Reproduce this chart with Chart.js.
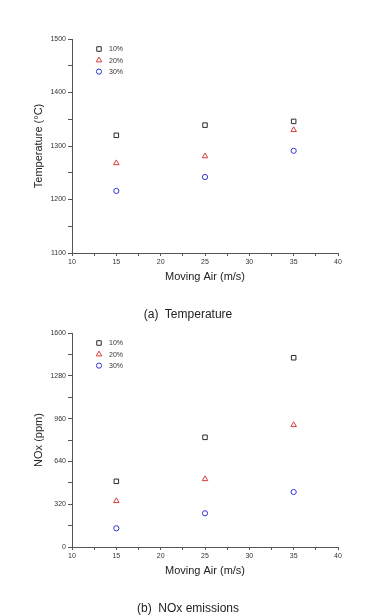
<!DOCTYPE html>
<html>
<head>
<meta charset="utf-8">
<script src="https://cdn.jsdelivr.net/npm/chart.js@4/dist/chart.umd.min.js"></script>
<style>
  body { margin: 0; background: #fff; width: 382px; height: 616px; position: relative; overflow: hidden; font-family: "Liberation Sans", Arial, sans-serif; }
  .box { position: absolute; left: 0; width: 382px; height: 300px; }
  .cap { position: absolute; left: 0; width: 376px; text-align: center; font-size: 12px; color: #222; }
</style>
</head>
<body>
<div class="box" style="top:0"><canvas id="tempChart" width="382" height="300"></canvas></div>
<div class="box" style="top:294px"><canvas id="noxChart" width="382" height="300"></canvas></div>
<div class="cap" style="top:307px">(a)&nbsp; Temperature</div>
<div class="cap" style="top:601px">(b)&nbsp; NOx&nbsp;emissions</div>
<script>
// data
const airSpeed = [15, 25, 35];
const seriesLabels = ['10%', '20%', '30%'];
const temp10 = [1320, 1339, 1346];
const temp20 = [1268, 1281, 1330];
const temp30 = [1216, 1242, 1291];
const nox10 = [491, 820, 1415];
const nox20 = [344, 508, 912];
const nox30 = [140, 252, 411];
const xTicks = [10, 15, 20, 25, 30, 35, 40];
const tempTicks = [1100, 1200, 1300, 1400, 1500];
const noxTicks = [0, 320, 640, 960, 1280, 1600];

const FONT = '"Liberation Sans", Arial, sans-serif';
const styles = [
    { pointStyle: 'rect', color: '#2a2a2a', radius: 3.2 },
    { pointStyle: 'triangle', color: '#d83c3c', radius: 3.2 },
    { pointStyle: 'circle', color: '#3434d8', radius: 2.6 }
];

// legend drawn inside the plot, top-left
const innerLegend = {
    id: 'innerLegend',
    afterDatasetsDraw(chart) {
        const { ctx, chartArea } = chart;
        ctx.save();
        chart.data.datasets.forEach((ds, i) => {
            const x = chartArea.left + 27, y = chartArea.top + 10 + i * 11.3;
            ctx.strokeStyle = ds.borderColor;
            ctx.fillStyle = 'rgba(0,0,0,0)';
            ctx.lineWidth = 1;
            Chart.helpers.drawPoint(ctx, { pointStyle: ds.pointStyle, radius: ds.pointRadius, rotation: 0, borderWidth: 1 }, x, y);
            ctx.fillStyle = '#333';
            ctx.font = '7px ' + FONT;
            ctx.textBaseline = 'middle';
            ctx.fillText(ds.label, x + 10, y + 0.5);
        });
        ctx.restore();
    }
};

function makeChart(id, series, yMin, yMax, yStep, yMajor, yTitle) {
    const datasets = series.map((vals, i) => ({
        label: seriesLabels[i],
        data: airSpeed.map((x, j) => ({ x, y: vals[j] })),
        pointStyle: styles[i].pointStyle,
        pointRadius: styles[i].radius,
        pointHoverRadius: styles[i].radius,
        borderColor: styles[i].color,
        backgroundColor: 'rgba(0,0,0,0)',
        pointBorderWidth: 1
    }));
    return new Chart(document.getElementById(id), {
        type: 'scatter',
        data: { datasets },
        plugins: [innerLegend],
        options: {
            responsive: false,
            animation: false,
            layout: { padding: { left: 32, right: 44, top: 39, bottom: 16 } },
            plugins: { legend: { display: false }, tooltip: { enabled: false } },
            scales: {
                x: {
                    type: 'linear', min: 10, max: 40,
                    afterFit: s => { s.height = 31; },
                    border: { color: '#555', width: 1 },
                    grid: { drawOnChartArea: false, tickLength: 3, tickColor: '#555' },
                    ticks: { stepSize: 2.5, padding: 2, color: '#333', font: { size: 7, family: FONT }, maxRotation: 0, autoSkip: false,
                        callback: v => xTicks.includes(v) ? String(v) : '' },
                    title: { display: true, text: 'Moving Air (m/s)', color: '#222', font: { size: 11, family: FONT }, padding: 0 }
                },
                y: {
                    type: 'linear', min: yMin, max: yMax,
                    afterFit: s => { s.width = 40; },
                    border: { color: '#555', width: 1 },
                    grid: { drawOnChartArea: false, tickLength: 4, tickColor: '#555' },
                    ticks: { stepSize: yStep, padding: 2, color: '#333', font: { size: 7, family: FONT }, autoSkip: false,
                        callback: v => yMajor.includes(v) ? String(v) : '' },
                    title: { display: true, text: yTitle, color: '#222', font: { size: 11, family: FONT }, padding: 0 }
                }
            }
        }
    });
}

makeChart('tempChart', [temp10, temp20, temp30], 1100, 1500, 50, tempTicks, 'Temperature (°C)');
makeChart('noxChart', [nox10, nox20, nox30], 0, 1600, 160, noxTicks, 'NOx (ppm)');
</script>
</body>
</html>
